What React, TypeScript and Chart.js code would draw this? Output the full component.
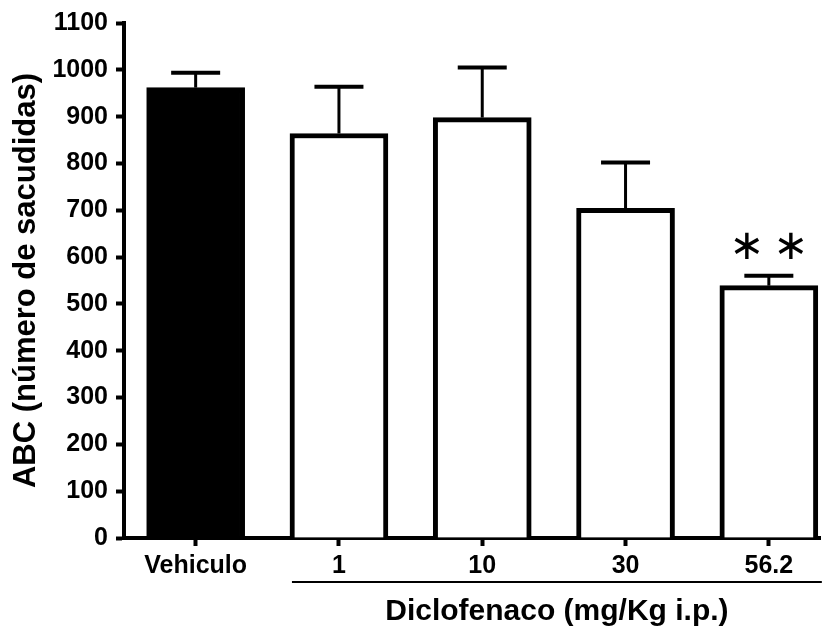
import React, { useEffect, useRef } from 'react';
import Chart from 'chart.js/auto';

const categories = ['Vehiculo', '1', '10', '30', '56.2'];
const means = [962, 864, 898, 704, 539];
const errors = [32, 100, 107, 98, 21];
const fills = ['#000000', '#ffffff', '#ffffff', '#ffffff', '#ffffff'];
const significance = ['', '', '', '', '∗ ∗'];
const yMin = 0;
const yMax = 1100;
const yStep = 100;
const yTitle = 'ABC (número de sacudidas)';
const xTitle = 'Diclofenaco (mg/Kg i.p.)';
const groupFirst = 1;
const groupLast = 4;

const FONT = "'Liberation Sans', Arial, sans-serif";

const overlayPlugin = {
  id: 'overlay',
  afterDatasetsDraw(chart: any) {
    const { ctx } = chart;
    const y = chart.scales.y;
    const meta = chart.getDatasetMeta(0);
    ctx.save();
    ctx.strokeStyle = '#000';
    ctx.fillStyle = '#000';
    meta.data.forEach((el: any, i: number) => {
      const top = y.getPixelForValue(means[i] + errors[i]);
      ctx.lineWidth = 3;
      ctx.beginPath();
      ctx.moveTo(el.x, el.y);
      ctx.lineTo(el.x, top);
      ctx.stroke();
      ctx.lineWidth = 4;
      ctx.beginPath();
      ctx.moveTo(el.x - 24.5, top);
      ctx.lineTo(el.x + 24.5, top);
      ctx.stroke();
      if (significance[i]) {
        const parts = significance[i].split(' ');
        ctx.font = "42px 'DejaVu Sans'";
        ctx.textAlign = 'center';
        ctx.textBaseline = 'middle';
        const gap = 44;
        parts.forEach((p: string, k: number) => {
          const off = (k - (parts.length - 1) / 2) * gap;
          ctx.fillText(p, el.x + off, top - 28);
        });
      }
    });
    // group underline and group title
    const a: any = meta.data[groupFirst];
    const b: any = meta.data[groupLast];
    const x0 = a.x - a.width / 2 + 2;
    const x1 = b.x + b.width / 2 + 4;
    const ly = chart.chartArea.bottom + 44;
    ctx.lineWidth = 2;
    ctx.beginPath();
    ctx.moveTo(x0, ly);
    ctx.lineTo(x1, ly);
    ctx.stroke();
    ctx.font = `bold 30px ${FONT}`;
    ctx.textAlign = 'center';
    ctx.textBaseline = 'middle';
    ctx.fillText(xTitle, (x0 + x1) / 2, chart.chartArea.bottom + 74);
    ctx.restore();
  },
};

export default function App() {
  const ref = useRef<HTMLCanvasElement>(null);
  useEffect(() => {
    if (!ref.current) return;
    const chart = new Chart(ref.current, {
      type: 'bar',
      data: {
        datasets: [
          {
            data: categories.map((_, i) => ({ x: i, y: means[i] })),
            backgroundColor: fills,
            borderColor: '#000',
            borderWidth: 5,
            borderSkipped: 'start',
            barThickness: 98,
          } as any,
        ],
      },
      options: {
        animation: false,
        responsive: true,
        maintainAspectRatio: false,
        plugins: { legend: { display: false }, tooltip: { enabled: false } },
        layout: { padding: { top: 23, right: 6, bottom: 0, left: 0 } },
        scales: {
          x: {
            type: 'linear',
            offset: false,
            min: -0.5,
            max: 4.357,
            afterBuildTicks: (scale: any) => {
              scale.ticks = categories.map((_, i) => ({ value: i }));
            },
            afterFit: (scale: any) => {
              scale.height = 91;
            },
            ticks: {
              autoSkip: false,
              maxRotation: 0,
              padding: 5,
              color: '#000',
              font: { family: FONT, size: 25, weight: 'bold' },
              callback: (v: any) => categories[v as number],
            },
            grid: {
              offset: false,
              drawOnChartArea: false,
              drawTicks: true,
              tickLength: 8,
              tickWidth: 4,
              tickColor: '#000',
            },
            border: { display: true, color: '#000', width: 4 },
            title: { display: false },
          },
          y: {
            min: yMin,
            max: yMax,
            afterFit: (scale: any) => {
              scale.width = 124;
            },
            ticks: {
              stepSize: yStep,
              padding: 8,
              color: '#000',
              font: { family: FONT, size: 25, weight: 'bold' },
              callback: (v: any) => String(v),
            },
            grid: {
              drawOnChartArea: false,
              drawTicks: true,
              tickLength: 8,
              tickWidth: 4,
              tickColor: '#000',
            },
            border: { display: true, color: '#000', width: 4 },
            title: {
              display: true,
              text: yTitle,
              color: '#000',
              font: { family: FONT, size: 31, weight: 'bold' },
              padding: { top: 8, bottom: 0 },
            },
          },
        },
      },
      plugins: [overlayPlugin],
    });
    return () => chart.destroy();
  }, []);
  return (
    <div style={{ position: 'fixed', left: 0, top: 0, width: 826, height: 629, background: '#fff' }}>
      <canvas ref={ref} />
    </div>
  );
}
